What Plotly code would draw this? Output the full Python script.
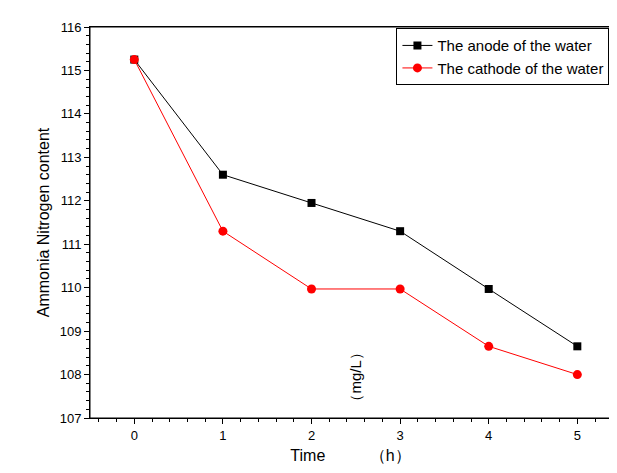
import plotly.graph_objects as go

hours = [0, 1, 2, 3, 4, 5]
anode = [115.25, 112.6, 111.95, 111.3, 109.97, 108.65]
cathode = [115.25, 111.3, 109.97, 109.97, 108.65, 108.0]

fig = go.Figure()
fig.add_trace(go.Scatter(x=hours, y=anode, mode="lines+markers", name="The anode of the water",
                         line=dict(color="black", width=1), marker=dict(symbol="square", size=8, color="black")))
fig.add_trace(go.Scatter(x=hours, y=cathode, mode="lines+markers", name="The cathode of the water",
                         line=dict(color="red", width=1), marker=dict(symbol="circle", size=9, color="red")))
ax = dict(showgrid=False, zeroline=False, showline=True, linecolor="black", linewidth=1, mirror=True,
          ticks="outside", ticklen=5, tickcolor="black",
          minor=dict(ticks="outside", ticklen=3, tickcolor="black"))
fig.update_xaxes(**ax, range=[-0.5, 5.38], dtick=1, title=dict(text="Time          （h）", standoff=8))
fig.update_yaxes(**ax, range=[107, 116], dtick=1, title=dict(text="Ammonia Nitrogen content", standoff=6))
fig.add_annotation(x=2.5, y=107.95, xref="x", yref="y", text="（mg/L）", textangle=-90, showarrow=False,
                   font=dict(size=15, color="black"))
fig.add_shape(type="rect", xref="paper", yref="paper", x0=0, y0=0, x1=1, y1=1,
              line=dict(color="black", width=1), layer="above")
fig.update_layout(width=617, height=473, plot_bgcolor="white", paper_bgcolor="white",
                  font=dict(family="Liberation Sans, Arial", size=13, color="black"),
                  margin=dict(l=82, r=14, t=17, b=63),
                  legend=dict(x=0.997, y=0.997, xanchor="right", yanchor="top", bordercolor="black", borderwidth=1,
                              font=dict(size=15), tracegroupgap=0, itemwidth=30, bgcolor="white"))
fig.write_html("out.html")
